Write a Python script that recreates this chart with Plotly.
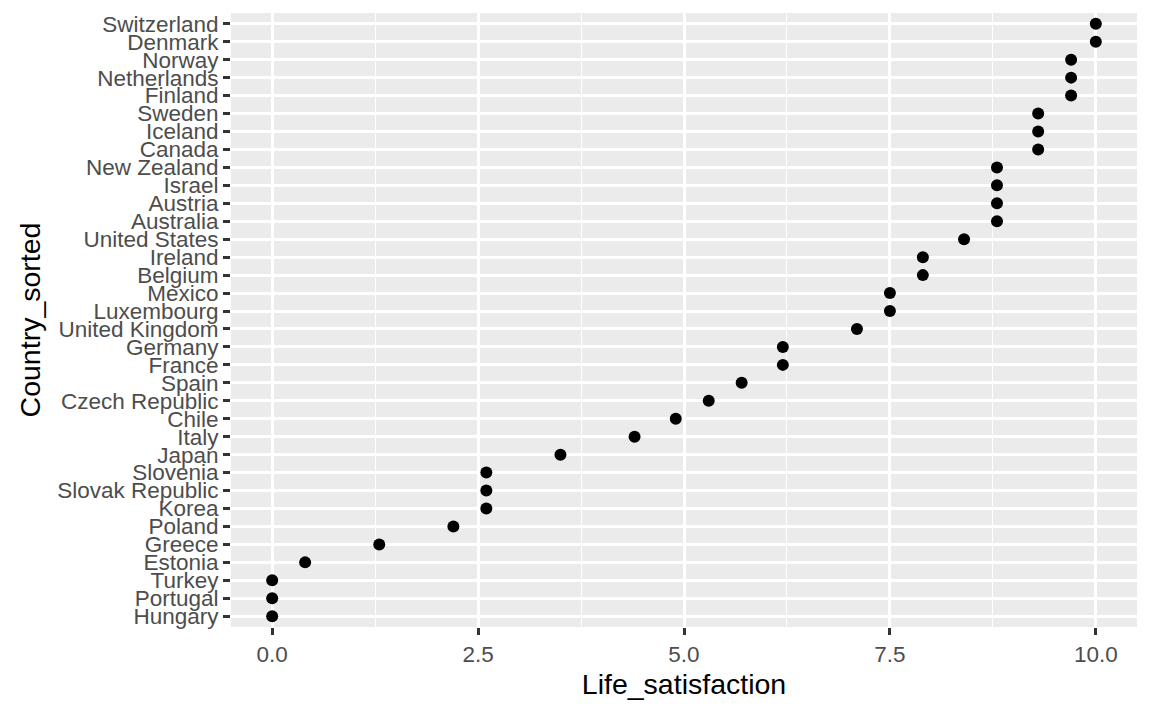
import plotly.graph_objects as go

countries = ["Switzerland", "Denmark", "Norway", "Netherlands", "Finland", "Sweden",
             "Iceland", "Canada", "New Zealand", "Israel", "Austria", "Australia",
             "United States", "Ireland", "Belgium", "Mexico", "Luxembourg",
             "United Kingdom", "Germany", "France", "Spain", "Czech Republic", "Chile",
             "Italy", "Japan", "Slovenia", "Slovak Republic", "Korea", "Poland",
             "Greece", "Estonia", "Turkey", "Portugal", "Hungary"]
life_satisfaction = [10.0, 10.0, 9.7, 9.7, 9.7, 9.3, 9.3, 9.3, 8.8, 8.8, 8.8, 8.8,
                     8.4, 7.9, 7.9, 7.5, 7.5, 7.1, 6.2, 6.2, 5.7, 5.3, 4.9,
                     4.4, 3.5, 2.6, 2.6, 2.6, 2.2, 1.3, 0.4, 0.0, 0.0, 0.0]
x_ticks = [0.0, 2.5, 5.0, 7.5, 10.0]
x_tick_labels = ["0.0", "2.5", "5.0", "7.5", "10.0"]

fig = go.Figure(go.Scatter(
    x=life_satisfaction, y=countries, mode="markers",
    marker=dict(color="black", size=12, line=dict(width=0)),
    hoverinfo="x+y",
))

n = len(countries)
fig.update_layout(
    width=1152, height=711,
    margin=dict(l=231, r=15, t=13, b=84, autoexpand=False),
    paper_bgcolor="white", plot_bgcolor="#ebebeb",
    font=dict(family="Liberation Sans, Arial, sans-serif"),
    showlegend=False,
    xaxis=dict(
        range=[-0.5, 10.5], tickmode="array", tickvals=x_ticks, ticktext=x_tick_labels,
        showgrid=True, gridcolor="white", gridwidth=2.8,
        minor=dict(tick0=0, dtick=1.25, showgrid=True, gridcolor="white", gridwidth=1.4, ticks=""),
        zeroline=False, showline=False,
        ticks="outside", ticklen=7, tickwidth=2.6, tickcolor="#333333",
        tickfont=dict(size=22.5, color="#4d4d4d"),
        title=dict(text="Life_satisfaction", font=dict(size=28.5, color="black"), standoff=8),
    ),
    yaxis=dict(
        type="category", categoryorder="array", categoryarray=countries[::-1],
        tickmode="array", tickvals=countries, ticktext=countries,
        range=[-0.6, n - 1 + 0.6],
        showgrid=True, gridcolor="white", gridwidth=2.8,
        zeroline=False, showline=False,
        ticks="outside", ticklen=7, tickwidth=2.6, tickcolor="#333333",
        tickfont=dict(size=22.5, color="#4d4d4d"),
        title=dict(text="Country_sorted", font=dict(size=28.5, color="black"), standoff=8),
    ),
)

fig.write_html("out.html", config={"displayModeBar": False},
               post_script="document.body.style.margin='0';document.body.style.overflow='hidden';")
